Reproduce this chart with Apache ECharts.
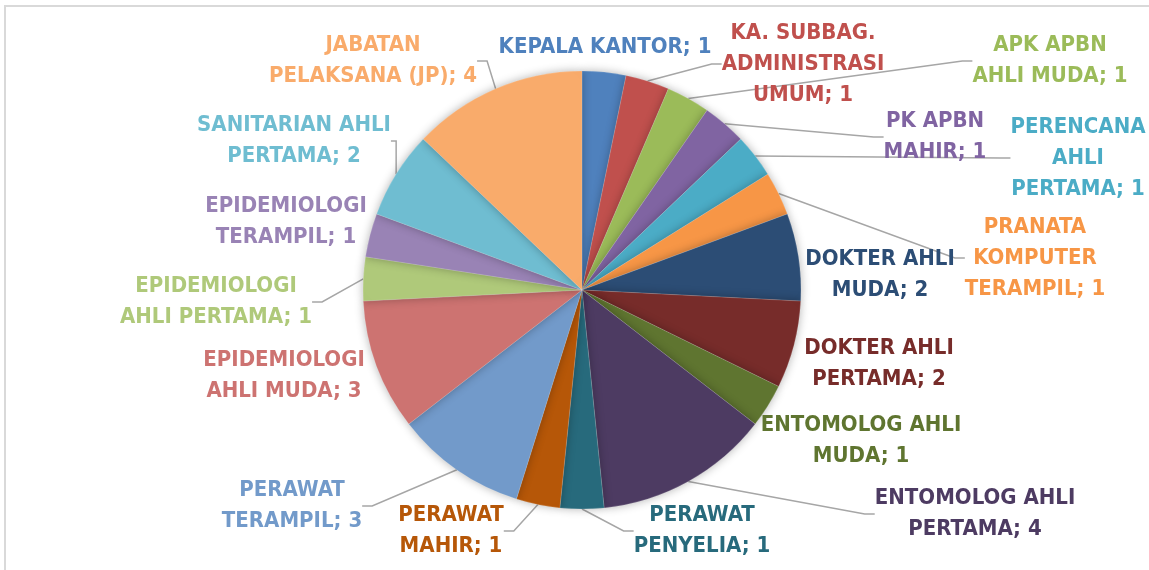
<!DOCTYPE html>
<html>
<head>
<meta charset="utf-8">
<script src="https://cdn.jsdelivr.net/npm/echarts@6/dist/echarts.min.js"></script>
<style>
  html, body { margin: 0; padding: 0; background: #fff; }
  #pie-chart { width: 1149px; height: 570px; }
</style>
</head>
<body>
<div id="pie-chart"></div>
<script>
// data jabatan
var names = [
    'KEPALA KANTOR', 'KA. SUBBAG.\nADMINISTRASI\nUMUM', 'APK APBN\nAHLI MUDA', 'PK APBN\nMAHIR',
    'PERENCANA\nAHLI\nPERTAMA', 'PRANATA\nKOMPUTER\nTERAMPIL', 'DOKTER AHLI\nMUDA', 'DOKTER AHLI\nPERTAMA',
    'ENTOMOLOG AHLI\nMUDA', 'ENTOMOLOG AHLI\nPERTAMA', 'PERAWAT\nPENYELIA', 'PERAWAT\nMAHIR',
    'PERAWAT\nTERAMPIL', 'EPIDEMIOLOGI\nAHLI MUDA', 'EPIDEMIOLOGI\nAHLI PERTAMA', 'EPIDEMIOLOGI\nTERAMPIL',
    'SANITARIAN AHLI\nPERTAMA', 'JABATAN\nPELAKSANA (JP)'
];
var values = [1, 1, 1, 1, 1, 1, 2, 2, 1, 4, 1, 1, 3, 3, 1, 1, 2, 4];

var colors = [
    '#4f81bd', '#c0504d', '#9bbb59', '#8064a2', '#4bacc6', '#f79646', '#2c4d75', '#772c2a', '#5f7530',
    '#4d3b62', '#276a7c', '#b65708', '#729aca', '#cd7371', '#afc97a', '#9983b5', '#6fbdd1', '#f9ab6b'
];

// posisi label (manual, seperti di excel)
var labelPos = [
    [605, 47], [803, 64], [1050, 61], [935, 137], [1078, 158], [1035, 258], [880, 275], [879, 364],
    [861, 441], [975, 514], [702, 531], [451, 531], [292, 506], [284, 376], [216, 302], [286, 222],
    [294, 141], [373, 61]
];
var noLine = [0, 6, 7, 8, 13, 15];

var pieData = names.map(function (n, i) {
    return {
        name: n,
        value: values[i],
        itemStyle: { color: colors[i] },
        label: { color: colors[i] },
        labelLine: { show: noLine.indexOf(i) < 0 }
    };
});

var myChartPie = echarts.init(document.getElementById('pie-chart'));
var pieOption = {
    animation: false,
    graphic: [
        { type: 'line', shape: { x1: 4, y1: 6, x2: 1149, y2: 6 }, style: { stroke: '#d9d9d9', lineWidth: 2 } },
        { type: 'line', shape: { x1: 5, y1: 6, x2: 5, y2: 570 }, style: { stroke: '#d9d9d9', lineWidth: 2 } }
    ],
    series: [{
        type: 'pie',
        center: [582, 290],
        radius: 219,
        startAngle: 90,
        clockwise: true,
        data: pieData,
        itemStyle: {
            borderColor: 'rgba(255,255,255,0.3)',
            borderWidth: 0.5,
            shadowBlur: 10,
            shadowColor: 'rgba(0,0,0,0.3)'
        },
        label: {
            show: true,
            position: 'outside',
            formatter: '{b}; {c}',
            fontFamily: "'Liberation Sans Narrow', 'Arial Narrow', 'DejaVu Sans Condensed', sans-serif",
            fontWeight: 'bold',
            fontSize: 22,
            lineHeight: 31,
            align: 'center'
        },
        labelLine: {
            show: true,
            length: 10,
            length2: 10,
            lineStyle: { color: '#a6a6a6', width: 1.5 }
        },
        labelLayout: function (params) {
            var p = labelPos[params.dataIndex];
            return { x: p[0], y: p[1], align: 'center', verticalAlign: 'middle' };
        }
    }]
};
myChartPie.setOption(pieOption);
</script>
</body>
</html>
